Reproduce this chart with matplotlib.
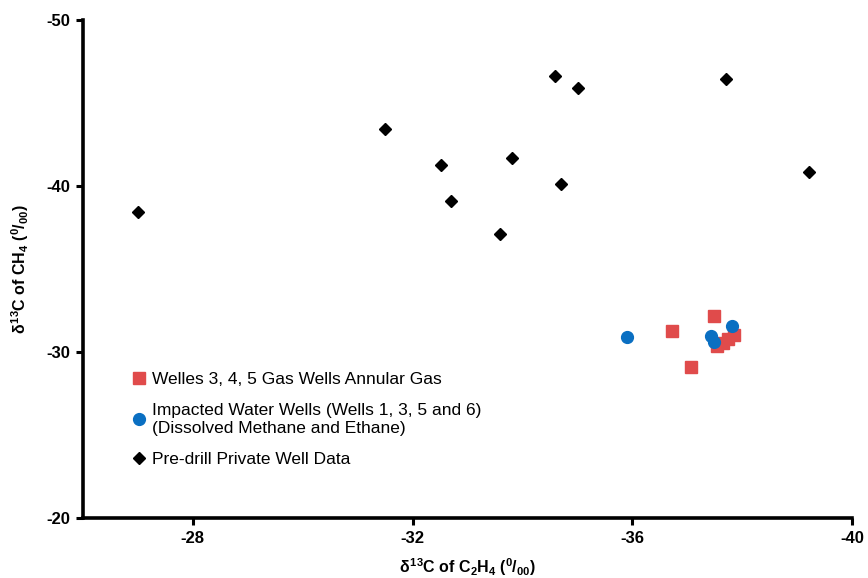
import matplotlib
matplotlib.use("Agg")
import matplotlib.pyplot as plt

plt.rcParams["font.family"] = ["Liberation Sans", "DejaVu Sans"]
plt.rcParams["mathtext.fontset"] = "custom"
plt.rcParams["mathtext.rm"] = "Liberation Sans:bold"
plt.rcParams["mathtext.it"] = "Liberation Sans:bold"
plt.rcParams["mathtext.bf"] = "Liberation Sans:bold"
plt.rcParams["axes.unicode_minus"] = False

# Welles 3, 4, 5 gas wells annular gas
gas_c2 = [-37.48, -36.73, -37.07, -37.55, -37.65, -37.75, -37.85]
gas_c1 = [-32.19, -31.27, -29.11, -30.35, -30.55, -30.80, -31.00]

# impacted water wells
water_c2 = [-35.90, -37.43, -37.49, -37.81]
water_c1 = [-30.92, -30.98, -30.62, -31.57]

# pre-drill private wells
pre_c2 = [-27.0, -31.50, -32.52, -32.70, -33.81, -33.60, -34.60, -35.02, -34.71, -37.71, -39.21]
pre_c1 = [-38.42, -43.42, -41.28, -39.10, -41.67, -37.13, -46.64, -45.89, -40.12, -46.45, -40.84]

x_ticks = [-28, -32, -36, -40]
y_ticks = [-50, -40, -30, -20]

fig = plt.figure(figsize=(8.68, 5.78), dpi=100)
ax = fig.add_axes([0.0956, 0.1038, 0.886, 0.8616])

ax.plot(gas_c2, gas_c1, "s", color="#E04B4B", markersize=8.5,
        label="Welles 3, 4, 5 Gas Wells Annular Gas")
ax.plot(water_c2, water_c1, "o", color="#0A6FC2", markersize=8.5,
        label="Impacted Water Wells (Wells 1, 3, 5 and 6)\n(Dissolved Methane and Ethane)")
ax.plot(pre_c2, pre_c1, "D", color="black", markersize=6.5,
        label="Pre-drill Private Well Data")

ax.set_xlim(-26, -40)
ax.set_ylim(-20, -50)
ax.set_xticks(x_ticks)
ax.set_yticks(y_ticks)

for side in ["top", "right"]:
    ax.spines[side].set_visible(False)
for side in ["left", "bottom"]:
    ax.spines[side].set_linewidth(2.6)
ax.tick_params(width=2.2, length=5, labelsize=12, pad=4)
for lab in ax.get_xticklabels() + ax.get_yticklabels():
    lab.set_fontweight("bold")

ax.set_xlabel(r"$\delta^{13}$C of C$_2$H$_4$ ($^0$/$_{00}$)", fontsize=11.5,
              fontweight="bold", labelpad=8)
ax.set_ylabel(r"$\delta^{13}$C of CH$_4$ ($^0$/$_{00}$)", fontsize=11.5,
              fontweight="bold", labelpad=11)

ax.legend(loc="upper left", bbox_to_anchor=(0.053, 0.308), frameon=False,
          fontsize=12.5, handletextpad=0.25, labelspacing=0.95, handlelength=1.0,
          borderaxespad=0)

fig.savefig("out.png", dpi=100)
